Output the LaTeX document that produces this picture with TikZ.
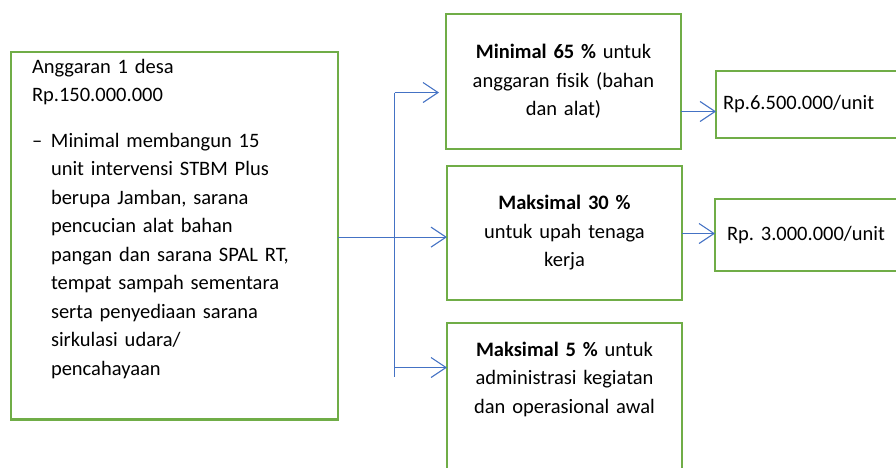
\documentclass[tikz,border=0pt]{standalone}
\usepackage{fontspec}
\setmainfont{Carlito}[WordSpace=0.85]
\usetikzlibrary{positioning, arrows.meta}
\definecolor{boxgreen}{HTML}{70AD47}
\definecolor{arrowblue}{HTML}{4472C4}
\newcommand{\extdepth}[1]{\rule[-#1]{0pt}{#1}}
\frenchspacing

\begin{document}
\begin{tikzpicture}[
  x=1pt, y=-1pt,
  every node/.style={font=\fontsize{20.5pt}{28.5pt}\selectfont},
  budget/.style={draw=boxgreen, line width=2.7pt, outer sep=0pt, anchor=north west, text width=285pt, align=left, inner xsep=21pt, inner ysep=7pt},
  share/.style={draw=boxgreen, line width=2.7pt, outer sep=0pt, text width=223pt, inner xsep=6pt, align=center, minimum height=135pt},
  unitbox/.style={draw=boxgreen, line width=2.7pt, outer sep=0pt, anchor=west, text width=220pt, align=left},
  arrow/.style={draw=arrowblue, line width=1.1pt, -{Straight Barb[length=15pt, width=20pt]}},
  trunkline/.style={draw=arrowblue, line width=1.1pt}
]
\useasboundingbox (0,0) rectangle (896,467);
\clip (0,0) rectangle (896,467);

% Nodes
\node[budget] (anggaran) at (11,52) {Anggaran 1 desa\\
  Rp.150.000.000\\[17pt]
  \makebox[19pt][l]{--}Minimal membangun 15\\
  \hspace*{19pt}unit intervensi STBM Plus\\
  \hspace*{19pt}berupa Jamban, sarana\\
  \hspace*{19pt}pencucian alat bahan\\
  \hspace*{19pt}pangan dan sarana SPAL RT,\\
  \hspace*{19pt}tempat sampah sementara\\
  \hspace*{19pt}serta penyediaan sarana\\
  \hspace*{19pt}sirkulasi udara/\\
  \hspace*{19pt}pencahayaan\extdepth{37pt}};

\node[share] (fisik) at (563.5,81.5) {\textbf{Minimal 65 \%} untuk\\ anggaran fisik (bahan\\ dan alat)};
\node[share, minimum height=134pt] (upah) at (564.5,233) {\textbf{Maksimal 30 \%}\\ untuk upah tenaga\\ kerja};
\node[share, anchor=north west, minimum height=0pt, inner ysep=19pt] (admin) at (447,323) {\textbf{Maksimal 5 \%} untuk\\ administrasi kegiatan\\ dan operasional awal\extdepth{80pt}};

\node[unitbox, minimum height=67pt, inner xsep=7pt] (unitfisik) at (716,104.5) {Rp.6.500.000/unit};
\node[unitbox, minimum height=72pt, inner xsep=12pt] (unitupah) at (715,235) {Rp. 3.000.000/unit};

% Arrows
\coordinate (split) at (394.5,92.5);
\coordinate (splitend) at (394.5,377);
\coordinate (toadmin) at (394.5,367.5);
\draw[trunkline] (split) -- (splitend);
\draw[arrow] ([yshift=-1.5pt]anggaran.east) -- ([yshift=-1.5pt]anggaran.east -| upah.west);
\draw[arrow, shorten >=7pt] (split) -- (split -| fisik.west);
\draw[arrow] (toadmin) -- (toadmin -| admin.west);
\draw[arrow] ([yshift=-30pt]fisik.east) -- ([yshift=-30pt]fisik.east -| unitfisik.west);
\draw[arrow] ([yshift=-0.5pt]upah.east) -- ([yshift=-0.5pt]upah.east -| unitupah.west);

\end{tikzpicture}
\end{document}
